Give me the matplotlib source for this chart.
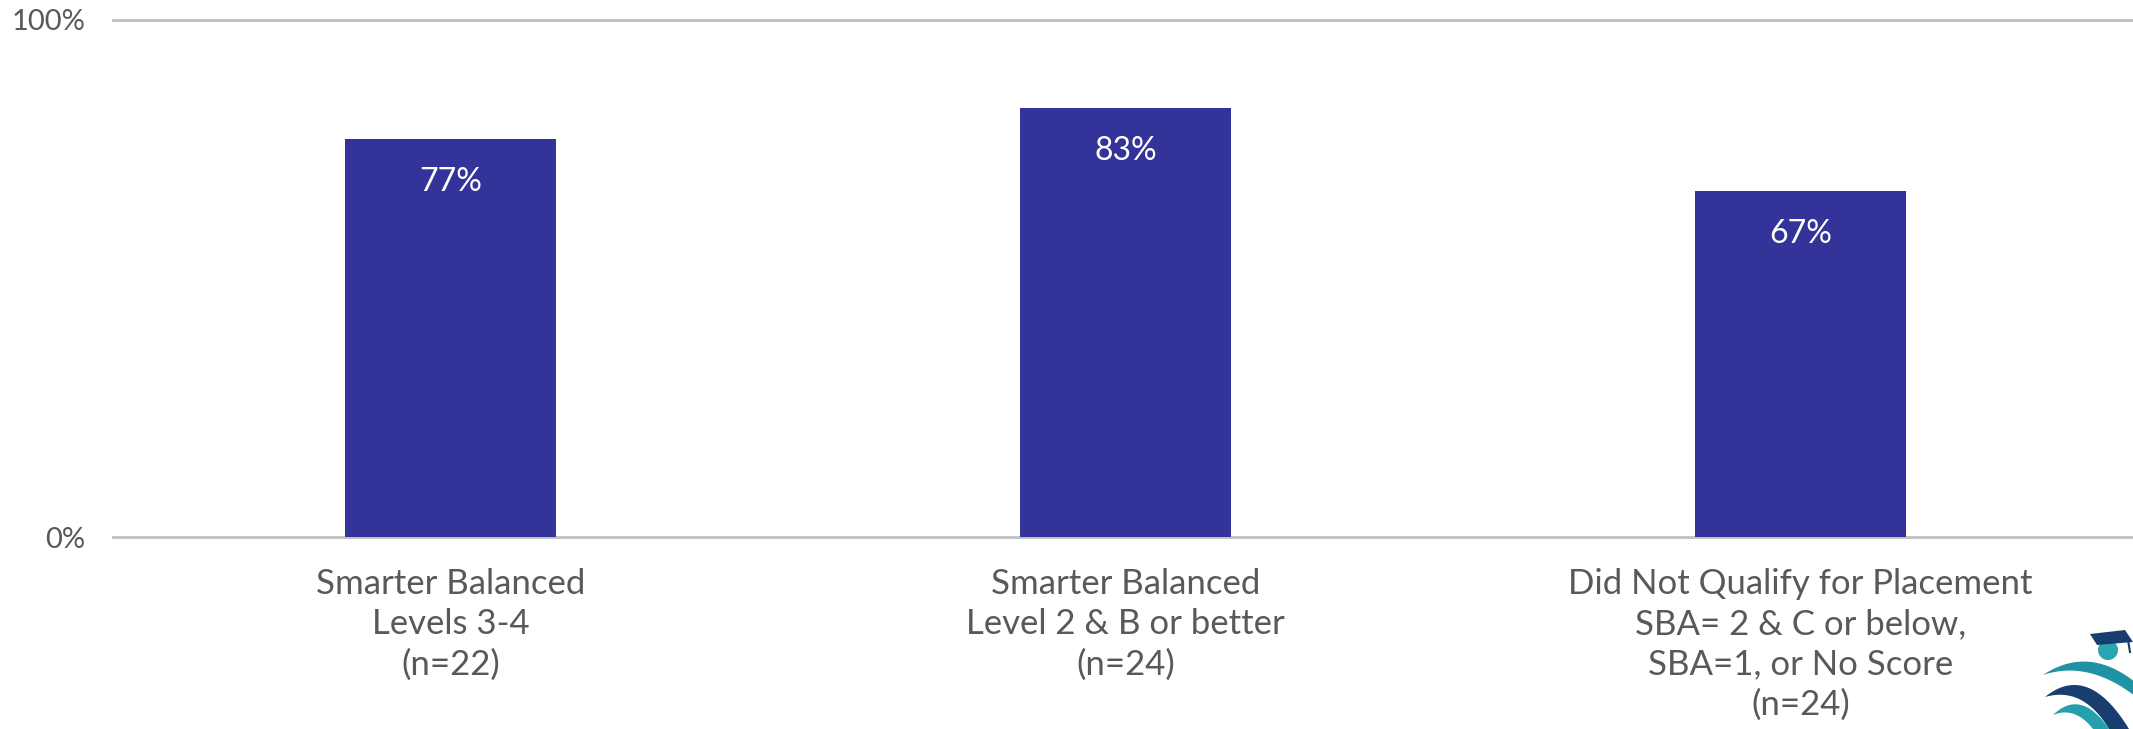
import numpy as np
import matplotlib.pyplot as plt
from matplotlib.patches import Polygon, Circle

plt.rcParams['font.family'] = ['Lato', 'DejaVu Sans']

categories = [
    "Smarter Balanced\nLevels 3-4\n(n=22)",
    "Smarter Balanced\nLevel 2 & B or better\n(n=24)",
    "Did Not Qualify for Placement\nSBA= 2 & C or below,\nSBA=1, or No Score\n(n=24)",
]
values = [0.77, 0.83, 0.67]
labels = ["77%", "83%", "67%"]
yticks = [0, 1]
ytick_labels = ["0%", "100%"]

bar_color = "#333399"
text_color = "#595959"
grid_color = "#c0c0c0"

W, H = 2133, 729
fig = plt.figure(figsize=(W / 100, H / 100), dpi=100)
ax = fig.add_axes([113 / W, 1 - 537 / H, 2025 / W, 517 / H])

x = list(range(len(categories)))
ax.bar(x, values, width=0.314, color=bar_color, zorder=3)

for xi, v, lab in zip(x, values, labels):
    ax.annotate(lab, (xi, v), xytext=(0, -43), textcoords='offset pixels',
                ha='center', va='center', color='white', fontsize=23, zorder=4)

ax.set_xlim(-0.5, 2.5)
ax.set_ylim(0, 1)
ax.set_yticks(yticks)
ax.set_yticklabels(ytick_labels)
for yv in yticks:
    ax.axhline(yv, color=grid_color, lw=2, zorder=1, clip_on=False)

ax.set_xticks(x)
ax.set_xticklabels(categories, linespacing=1.32)
ax.tick_params(axis='x', length=0, pad=22, labelsize=25, labelcolor=text_color)
ax.tick_params(axis='y', length=0, pad=20, labelsize=21, labelcolor=text_color)
for s in ax.spines.values():
    s.set_visible(False)


# logo in the lower right corner, cut off by the edge
def bez(p0, p1, p2, n=40):
    t = np.linspace(0, 1, n)[:, None]
    p0, p1, p2 = map(np.array, (p0, p1, p2))
    return (1 - t) ** 2 * p0 + 2 * (1 - t) * t * p1 + t ** 2 * p2


def swoosh(outer, inner, color):
    pts = np.vstack([bez(*outer), bez(*inner)])
    lax.add_patch(Polygon(pts, closed=True, color=color, lw=0))


lax = fig.add_axes([2033 / W, 0, 100 / W, 129 / H])
lax.set_xlim(0, 100)
lax.set_ylim(129, 0)
lax.axis('off')
swoosh([(10, 75), (55, 45), (102, 82)], [(102, 96), (55, 60), (10, 75)], "#1f93a3")
swoosh([(12, 97), (55, 62), (96, 129)], [(76, 129), (50, 86), (12, 97)], "#173e6e")
swoosh([(20, 115), (48, 88), (76, 129)], [(60, 129), (42, 106), (20, 115)], "#24a0ac")
lax.add_patch(Circle((75, 50), 10, color="#2aa6b0", lw=0))
lax.add_patch(Polygon([(57, 34), (92, 30), (100, 42), (64, 45)], closed=True, color="#173e6e", lw=0))
lax.plot([95, 97], [40, 52], color="#173e6e", lw=1.5)

fig.savefig("out.png", dpi=100)
